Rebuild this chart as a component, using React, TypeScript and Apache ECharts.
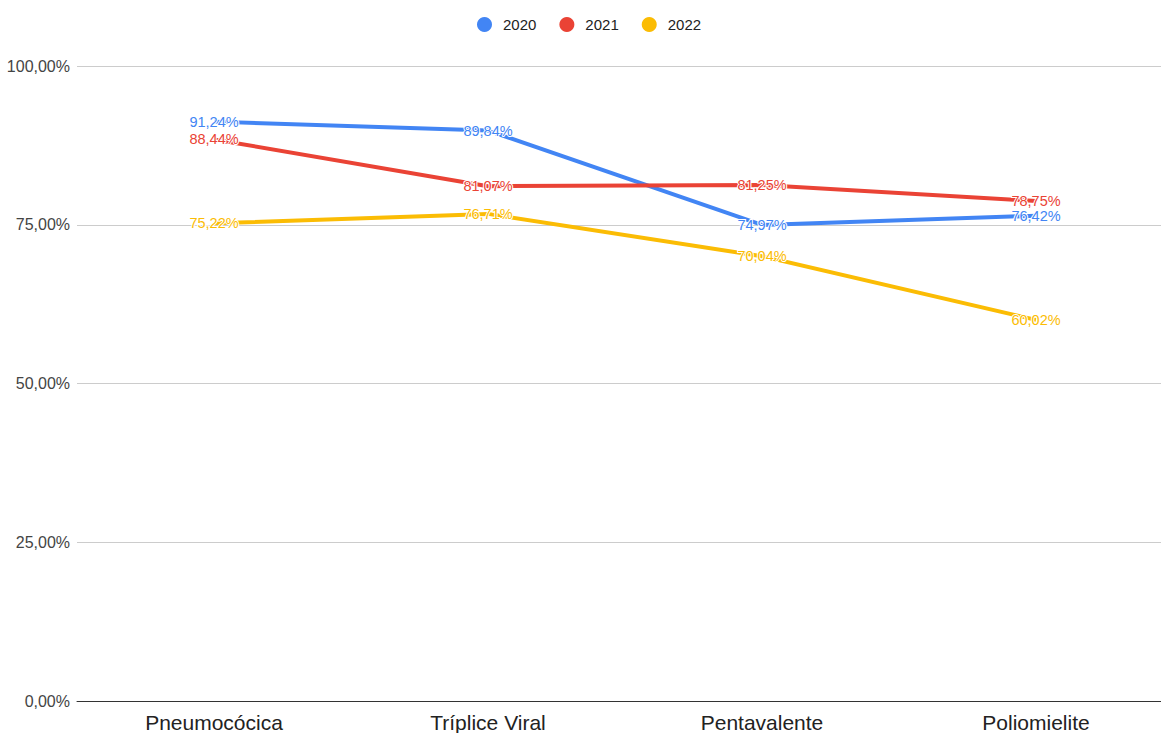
import React, { useEffect, useRef } from "react";
import * as echarts from "echarts";

const categories = ["Pneumocócica", "Tríplice Viral", "Pentavalente", "Poliomielite"];
const years = ["2020", "2021", "2022"];
const values2020 = [91.24, 89.84, 74.97, 76.42];
const values2021 = [88.44, 81.07, 81.25, 78.75];
const values2022 = [75.22, 76.71, 70.04, 60.02];
const colors = ["#4285F4", "#EA4335", "#FBBC04"];

const fmt = (v: number) => v.toFixed(2).replace(".", ",") + "%";

export default function App() {
  const ref = useRef<HTMLDivElement>(null);
  useEffect(() => {
    if (!ref.current) return;
    const chart = echarts.init(ref.current, null, { renderer: "svg" });
    const seriesData = [values2020, values2021, values2022];
    chart.setOption({
      animation: false,
      backgroundColor: "#ffffff",
      textStyle: { fontFamily: "'Liberation Sans', Arial, sans-serif" },
      legend: {
        top: 12,
        left: 472,
        itemGap: 23,
        icon: "circle",
        itemWidth: 15,
        itemHeight: 15,
        textStyle: { fontSize: 15, color: "#222222", padding: [0, 0, 0, 6] },
        data: years.map((y, i) => ({ name: y, itemStyle: { color: colors[i], opacity: 1 } })),
      },
      grid: { left: 77, right: 0, top: 66, bottom: 32, containLabel: false },
      xAxis: {
        type: "category",
        data: categories,
        boundaryGap: true,
        axisLine: { lineStyle: { color: "#333333", width: 1 } },
        axisTick: { show: false },
        axisLabel: { fontSize: 21, color: "#222222", margin: 11 },
      },
      yAxis: {
        type: "value",
        min: 0,
        max: 100,
        interval: 25,
        axisLine: { show: false },
        axisTick: { show: false },
        splitLine: { lineStyle: { color: "#cccccc", width: 1 } },
        axisLabel: { fontSize: 16, color: "#444444", margin: 7, formatter: (v: number) => fmt(v) },
      },
      series: years.map((y, i) => ({
        name: y,
        type: "line",
        data: seriesData[i],
        color: colors[i],
        showSymbol: true,
        symbol: "circle",
        symbolSize: 0.1,
        itemStyle: { color: colors[i] },
        lineStyle: { width: 4, color: colors[i] },
        label: {
          show: true,
          position: "inside",
          fontSize: 14.5,
          color: colors[i],
          textBorderColor: "#ffffff",
          textBorderWidth: 2,
          formatter: (p: any) => fmt(p.value),
        },
        z: 2 + i,
      })),
    });
    return () => chart.dispose();
  }, []);
  return (
    <div
      ref={ref}
      style={{ position: "fixed", left: 0, top: 0, width: 1173, height: 733 }}
    />
  );
}
